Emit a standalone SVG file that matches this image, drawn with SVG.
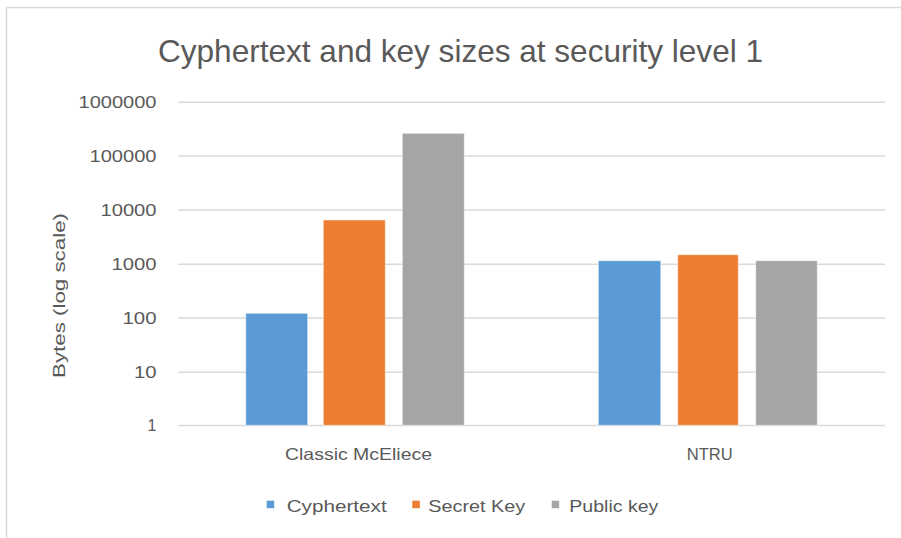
<svg xmlns="http://www.w3.org/2000/svg" width="901" height="538" viewBox="0 0 901 538">
<style>
text{font-family:"Liberation Sans",Arial,sans-serif;fill:#595959}
.tick{font-size:16px;text-anchor:end}
.cat{font-size:16.5px}
.leg{font-size:16.5px}
.grid{stroke:#D9D9D9;stroke-width:1.5}
.bar{stroke-width:1;stroke-opacity:0.5;stroke:#ffffff}
</style>
<rect x="0" y="0" width="901" height="538" fill="#ffffff"/>
<path d="M6.5,538 V7.5 H901" fill="none" stroke="#D9D9D9" stroke-width="1.5"/>
<g id="title"><text x="158" y="61.5" font-size="32" textLength="605" lengthAdjust="spacingAndGlyphs">Cyphertext and key sizes at security level 1</text></g>
<g id="gridlines">
<line class="grid" x1="178" y1="102.3" x2="885" y2="102.3"/>
<line class="grid" x1="178" y1="156" x2="885" y2="156"/>
<line class="grid" x1="178" y1="210" x2="885" y2="210"/>
<line class="grid" x1="178" y1="264.3" x2="885" y2="264.3"/>
<line class="grid" x1="178" y1="318" x2="885" y2="318"/>
<line class="grid" x1="178" y1="372.3" x2="885" y2="372.3"/>
<line class="grid" x1="178" y1="425.5" x2="885" y2="425.5"/>
</g>
<g id="yticks">
<text class="tick" x="156.5" y="108" textLength="78" lengthAdjust="spacingAndGlyphs">1000000</text>
<text class="tick" x="156.5" y="161.7" textLength="67" lengthAdjust="spacingAndGlyphs">100000</text>
<text class="tick" x="156.5" y="215.7" textLength="56" lengthAdjust="spacingAndGlyphs">10000</text>
<text class="tick" x="156.5" y="270" textLength="45" lengthAdjust="spacingAndGlyphs">1000</text>
<text class="tick" x="156.5" y="323.7" textLength="34" lengthAdjust="spacingAndGlyphs">100</text>
<text class="tick" x="156.5" y="378" textLength="22.5" lengthAdjust="spacingAndGlyphs">10</text>
<text class="tick" x="156.5" y="431.2">1</text>
</g>
<g id="ytitle"><text transform="translate(65,295.5) rotate(-90)" font-size="17" text-anchor="middle" textLength="165" lengthAdjust="spacingAndGlyphs">Bytes (log scale)</text></g>
<g id="bars">
<rect id="mce-cypher" class="bar" x="245.7" y="313.3" width="62" height="112" fill="#5B9BD5"/>
<rect id="mce-secret" class="bar" x="323.3" y="220" width="62" height="205.3" fill="#ED7D31"/>
<rect id="mce-public" class="bar" x="402.3" y="133.3" width="62" height="292" fill="#A5A5A5"/>
<rect id="ntru-cypher" class="bar" x="598.3" y="260.7" width="62.5" height="164.6" fill="#5B9BD5"/>
<rect id="ntru-secret" class="bar" x="677.7" y="254.7" width="60.6" height="170.6" fill="#ED7D31"/>
<rect id="ntru-public" class="bar" x="755.7" y="260.7" width="61.6" height="164.6" fill="#A5A5A5"/>
</g>
<g id="categories">
<text class="cat" x="285" y="459.5" textLength="147" lengthAdjust="spacingAndGlyphs">Classic McEliece</text>
<text class="cat" x="686.7" y="459.5" textLength="46" lengthAdjust="spacingAndGlyphs">NTRU</text>
</g>
<g id="legend">
<rect x="266.7" y="500.7" width="7.5" height="7.5" fill="#5B9BD5"/>
<text class="leg" x="286.7" y="511.7" textLength="100" lengthAdjust="spacingAndGlyphs">Cyphertext</text>
<rect x="412.3" y="500.7" width="7.5" height="7.5" fill="#ED7D31"/>
<text class="leg" x="428.3" y="511.7" textLength="97" lengthAdjust="spacingAndGlyphs">Secret Key</text>
<rect x="551.7" y="500.7" width="7.5" height="7.5" fill="#A5A5A5"/>
<text class="leg" x="569.3" y="511.7" textLength="89" lengthAdjust="spacingAndGlyphs">Public key</text>
</g>
</svg>
